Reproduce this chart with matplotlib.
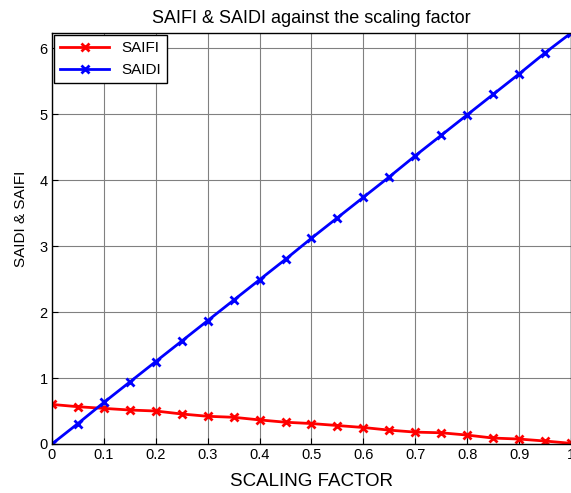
import matplotlib
matplotlib.use("Agg")
import matplotlib.pyplot as plt

# scaling factor steps 0 .. 1
scaling = [0.0, 0.05, 0.1, 0.15, 0.2, 0.25, 0.3, 0.35, 0.4, 0.45, 0.5,
           0.55, 0.6, 0.65, 0.7, 0.75, 0.8, 0.85, 0.9, 0.95, 1.0]
saifi = [0.60, 0.565, 0.54, 0.515, 0.50, 0.455, 0.42, 0.405, 0.365, 0.33, 0.31,
         0.28, 0.25, 0.21, 0.18, 0.17, 0.135, 0.09, 0.075, 0.045, 0.01]
saidi = [0.0, 0.31, 0.63, 0.94, 1.25, 1.56, 1.87, 2.18, 2.49, 2.80, 3.12,
         3.43, 3.74, 4.05, 4.37, 4.68, 4.99, 5.30, 5.61, 5.93, 6.23]
xticks = [0, 0.1, 0.2, 0.3, 0.4, 0.5, 0.6, 0.7, 0.8, 0.9, 1.0]
xticklabels = ["0", "0.1", "0.2", "0.3", "0.4", "0.5", "0.6", "0.7", "0.8", "0.9", "1"]
yticks = [0, 1, 2, 3, 4, 5, 6]

plt.rcParams["font.family"] = ["Liberation Sans", "DejaVu Sans"]

fig = plt.figure(figsize=(5.71, 4.93), dpi=100)
ax = fig.add_axes([0.091, 0.0994, 0.909, 0.8336])

ax.plot(scaling, saifi, color="red", lw=2, marker="x", ms=6, mew=2, label="SAIFI")
ax.plot(scaling, saidi, color="blue", lw=2, marker="x", ms=6, mew=2, label="SAIDI")

ax.set_xlim(0, 1)
ax.set_ylim(0, 6.23)
ax.set_xticks(xticks)
ax.set_xticklabels(xticklabels)
ax.set_yticks(yticks)
ax.grid(True, color="#808080", lw=0.8)
ax.set_axisbelow(True)
ax.tick_params(direction="in", labelsize=10.5, length=4, pad=3)
for s in ax.spines.values():
    s.set_linewidth(1.0)

ax.set_title("SAIFI & SAIDI against the scaling factor", fontsize=13, pad=7)
ax.set_xlabel("SCALING FACTOR", fontsize=13.5, labelpad=8)
ax.set_ylabel("SAIDI & SAIFI", fontsize=11)
ax.yaxis.set_label_coords(-0.046, 0.547)

leg = ax.legend(loc="upper left", fontsize=11, fancybox=False, framealpha=1,
                edgecolor="black", borderaxespad=0.15, handlelength=3.2,
                borderpad=0.4, labelspacing=0.5)
leg.get_frame().set_linewidth(1.0)

fig.savefig("out.png", dpi=100)
